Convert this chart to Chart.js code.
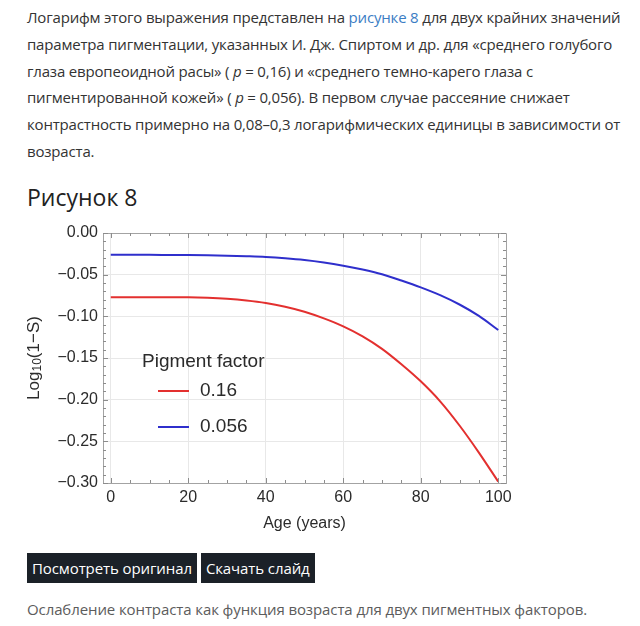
<!DOCTYPE html>
<html lang="ru">
<head>
<meta charset="utf-8">
<title>Рисунок 8</title>
<script src="https://cdn.jsdelivr.net/npm/chart.js@4.4.1/dist/chart.umd.min.js"></script>
<style>
    body {
        margin: 0;
        background: #ffffff;
        font-family: "Open Sans", sans-serif;
        color: #333333;
        width: 640px;
        height: 626px;
        position: relative;
        overflow: hidden;
    }
    .text {
        position: absolute;
        left: 27px;
        top: 4px;
        white-space: nowrap;
        font-size: 15px;
        letter-spacing: -0.18px;
        line-height: 26.8px;
        margin: 0;
    }
    .text a { color: #3b7dc4; text-decoration: none; }
    h2 {
        position: absolute;
        left: 27px;
        top: 181px;
        margin: 0;
        font-size: 23px;
        line-height: 32px;
        font-weight: 400;
        color: #222222;
    }
    .chart-box {
        position: absolute;
        left: 20px;
        top: 218px;
        width: 500px;
        height: 322px;
    }
    .buttons {
        position: absolute;
        left: 27px;
        top: 553px;
    }
    .buttons span {
        display: inline-block;
        background: #1b2128;
        color: #ffffff;
        font-size: 15px;
        letter-spacing: -0.1px;
        line-height: 30px;
        padding: 0 5px;
        margin-right: 4px;
    }
    .caption {
        position: absolute;
        left: 27px;
        top: 598px;
        margin: 0;
        font-size: 15px;
        letter-spacing: -0.1px;
        line-height: 22px;
        color: #5c5c5c;
    }
</style>
</head>
<body>
<p class="text">Логарифм этого выражения представлен на <a href="#">рисунке 8</a> для двух крайних значений<br>
параметра пигментации, указанных И. Дж. Спиртом и др. для «среднего голубого<br>
глаза европеоидной расы» ( <i>p</i> = 0,16) и «среднего темно-карего глаза с<br>
пигментированной кожей» ( <i>p</i> = 0,056). В первом случае рассеяние снижает<br>
контрастность примерно на 0,08–0,3 логарифмических единицы в зависимости от<br>
возраста.</p>
<h2>Рисунок 8</h2>
<div class="chart-box"><canvas id="fig8" width="500" height="322"></canvas></div>
<div class="buttons"><span>Посмотреть оригинал</span><span>Скачать слайд</span></div>
<p class="caption">Ослабление контраста как функция возраста для двух пигментных факторов.</p>

<script>
// values
const ages = [0, 5, 10, 15, 20, 25, 30, 35, 40, 45, 50, 55, 60, 65, 70, 75, 80, 85, 90, 95, 100];
const pigment016 = [-0.0770, -0.0770, -0.0770, -0.0771, -0.0772, -0.0778, -0.0790, -0.0810, -0.0840, -0.0885, -0.0945, -0.1025,
    -0.1120, -0.1240, -0.1390, -0.1575, -0.1780, -0.2020, -0.2310, -0.2635, -0.2984];
const pigment0056 = [-0.0262, -0.0262, -0.0262, -0.0263, -0.0264, -0.0267, -0.0272, -0.0279, -0.0288, -0.0303, -0.0324, -0.0354,
    -0.0392, -0.0438, -0.0495, -0.0570, -0.0652, -0.0746, -0.0858, -0.0995, -0.1164];
const seriesLabels = ["0.16", "0.056"];
const legendTitle = "Pigment factor";
const xTicks = [0, 20, 40, 60, 80, 100];
const yTicks = [0, -0.05, -0.10, -0.15, -0.20, -0.25, -0.30];

const AXIS_FONT = "'Liberation Sans', Arial, sans-serif";
const FRAME = "#a3a3a3";

function toPoints(values) {
    return ages.map((a, i) => ({ x: a, y: values[i] }));
}

// Mathematica-like frame: inner ticks on all sides, top/right edges,
// y title with subscript and a legend inside the plot
const framePlugin = {
    id: "frame",
    afterDraw(chart) {
        const ctx = chart.ctx;
        const area = chart.chartArea;
        const xs = chart.scales.x;
        const ys = chart.scales.y;

        ctx.save();
        ctx.strokeStyle = FRAME;
        ctx.lineWidth = 1;
        ctx.beginPath();
        ctx.moveTo(area.left, area.top + 0.5);
        ctx.lineTo(area.right + 0.5, area.top + 0.5);
        ctx.lineTo(area.right + 0.5, area.bottom);
        ctx.stroke();

        ctx.strokeStyle = "#8c8c8c";
        ctx.beginPath();
        for (let v = 0; v <= 100; v += 5) {
            const px = Math.round(xs.getPixelForValue(v)) + 0.5;
            const len = v % 20 === 0 ? 5 : 3;
            ctx.moveTo(px, area.bottom);
            ctx.lineTo(px, area.bottom - len);
            ctx.moveTo(px, area.top);
            ctx.lineTo(px, area.top + len);
        }
        for (let k = 0; k <= 30; k++) {
            const py = Math.round(ys.getPixelForValue(-k / 100)) + 0.5;
            const len = k % 5 === 0 ? 5 : 3;
            ctx.moveTo(area.left, py);
            ctx.lineTo(area.left + len, py);
            ctx.moveTo(area.right, py);
            ctx.lineTo(area.right - len, py);
        }
        ctx.stroke();

        // y axis title: Log10(1−S)
        ctx.translate(14, (area.top + area.bottom) / 2);
        ctx.rotate(-Math.PI / 2);
        ctx.fillStyle = "#2b2b2b";
        ctx.textBaseline = "middle";
        const big = "17px " + AXIS_FONT;
        const small = "12px " + AXIS_FONT;
        ctx.font = big;
        const w1 = ctx.measureText("Log").width;
        const w3 = ctx.measureText("(1−S)").width;
        ctx.font = small;
        const w2 = ctx.measureText("10").width;
        let x0 = -(w1 + w2 + w3) / 2;
        ctx.font = big;
        ctx.fillText("Log", x0, 0);
        ctx.font = small;
        ctx.fillText("10", x0 + w1, 4);
        ctx.font = big;
        ctx.fillText("(1−S)", x0 + w1 + w2, 0);
        ctx.restore();

        // legend
        ctx.save();
        ctx.font = "19px " + AXIS_FONT;
        ctx.fillStyle = "#2b2b2b";
        ctx.textBaseline = "middle";
        ctx.fillText(legendTitle, area.left + 39, area.top + 129);
        chart.data.datasets.forEach((ds, i) => {
            const y = area.top + 158 + i * 36;
            ctx.strokeStyle = ds.borderColor;
            ctx.lineWidth = 2;
            ctx.beginPath();
            ctx.moveTo(area.left + 55, y);
            ctx.lineTo(area.left + 86, y);
            ctx.stroke();
            ctx.fillText(ds.label, area.left + 97, y);
        });
        ctx.restore();
    }
};

new Chart(document.getElementById("fig8"), {
    type: "line",
    data: {
        datasets: [
            {
                label: seriesLabels[0],
                data: toPoints(pigment016),
                borderColor: "#e3302f",
                borderWidth: 2,
                pointRadius: 0,
                cubicInterpolationMode: "monotone",
            },
            {
                label: seriesLabels[1],
                data: toPoints(pigment0056),
                borderColor: "#2f2fcc",
                borderWidth: 2,
                pointRadius: 0,
                cubicInterpolationMode: "monotone",
            },
        ],
    },
    options: {
        responsive: false,
        animation: false,
        layout: { padding: { top: 15, right: 14, left: 0, bottom: 0 } },
        plugins: {
            legend: { display: false },
            tooltip: { enabled: false },
        },
        scales: {
            x: {
                type: "linear",
                min: -2,
                max: 102,
                afterBuildTicks: (s) => { s.ticks = xTicks.map((v) => ({ value: v })); },
                afterFit: (s) => { s.height = 57; },
                grid: { color: "#e8e8e8", drawTicks: false },
                border: { color: FRAME },
                ticks: {
                    padding: 5,
                    maxRotation: 0,
                    color: "#2b2b2b",
                    font: { family: AXIS_FONT, size: 16 },
                },
                title: {
                    display: true,
                    text: "Age (years)",
                    color: "#2b2b2b",
                    font: { family: AXIS_FONT, size: 16 },
                    padding: { top: 0, bottom: 7 },
                },
            },
            y: {
                min: -0.30,
                max: 0,
                afterBuildTicks: (s) => { s.ticks = yTicks.map((v) => ({ value: v })); },
                afterFit: (s) => { s.width = 83; },
                grid: { color: "#e8e8e8", drawTicks: false },
                border: { color: FRAME },
                ticks: {
                    padding: 5,
                    color: "#2b2b2b",
                    font: { family: AXIS_FONT, size: 16 },
                    callback: (v) => (v === 0 ? "0.00" : "\u2212" + Math.abs(v).toFixed(2)),
                },
            },
        },
    },
    plugins: [framePlugin],
});
</script>
</body>
</html>
